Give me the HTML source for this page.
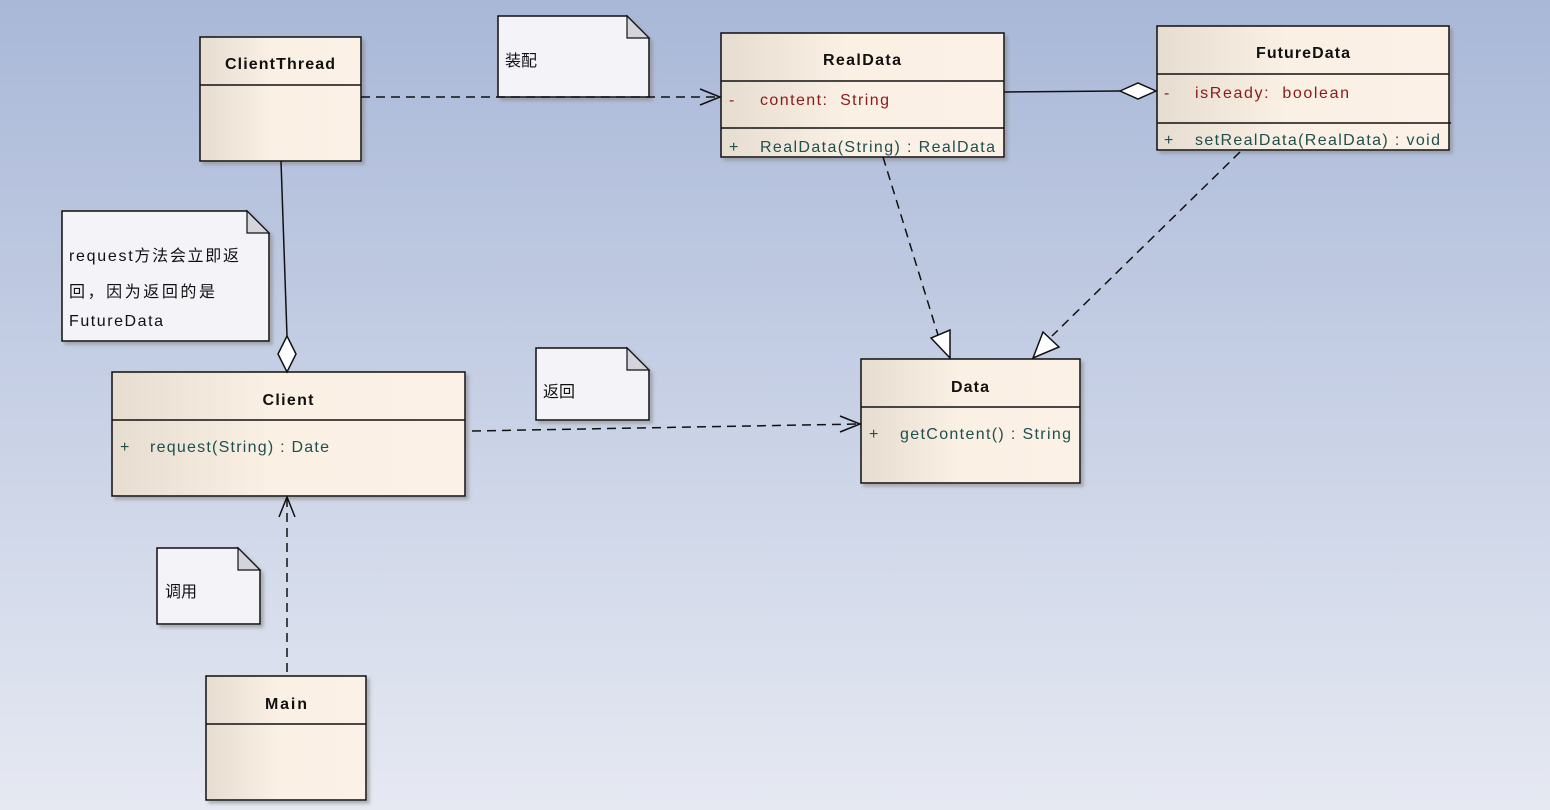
<!DOCTYPE html>
<html><head><meta charset="utf-8"><style>
html,body{margin:0;width:1550px;height:810px;overflow:hidden;}
body{background:linear-gradient(#a9b8d8,#e6e9f2);}
svg{display:block;}
svg text{font-family:"Liberation Sans","Noto Sans CJK SC",sans-serif;font-size:16px;white-space:pre;}
.t{font-weight:bold;fill:#111;}
.a{fill:#8b1a1a;}
.m{fill:#1f4f4f;}
.n{fill:#111;font-size:16px;}
</style></head><body>
<svg width="1550" height="810" xmlns="http://www.w3.org/2000/svg">
<defs>
<linearGradient id="g" x1="0" x2="1"><stop offset="0" stop-color="#e6ddd0"/><stop offset="0.45" stop-color="#faf0e4"/><stop offset="1" stop-color="#fbf1e6"/></linearGradient>
<filter id="s"><feDropShadow dx="3" dy="3" stdDeviation="1.5" flood-color="#888" flood-opacity="0.6"/></filter>
</defs>
<g stroke="#111" stroke-width="1.5" fill="url(#g)" filter="url(#s)">
<rect x="200" y="37" width="161" height="124"/>
<rect x="721" y="33" width="283" height="124"/>
<rect x="1157" y="26" width="292" height="124"/>
<rect x="112" y="372" width="353" height="124"/>
<rect x="861" y="359" width="219" height="124"/>
<rect x="206" y="676" width="160" height="124"/>
</g>
<g stroke="#111" stroke-width="1.5" fill="#f4f3f8" filter="url(#s)">
<path d="M498 16H627L649 38V97H498Z"/>
<path d="M536 348H627L649 370V420H536Z"/>
<path d="M157 548H238L260 570V624H157Z"/>
<path d="M62 211H247L269 233V341H62Z"/>
</g>
<g stroke="#111" stroke-width="1.2" fill="#d4d4dc">
<path d="M627 16V38H649Z"/><path d="M627 348V370H649Z"/><path d="M238 548V570H260Z"/><path d="M247 211V233H269Z"/>
</g>
<g stroke="#111" stroke-width="1.5">
<line x1="200" y1="85" x2="361" y2="85"/>
<line x1="721" y1="81" x2="1004" y2="81"/><line x1="721" y1="128" x2="1004" y2="128"/>
<line x1="1157" y1="74" x2="1449" y2="74"/><line x1="1157" y1="123" x2="1451" y2="123"/>
<line x1="112" y1="420" x2="465" y2="420"/>
<line x1="861" y1="407" x2="1080" y2="407"/>
<line x1="206" y1="724" x2="366" y2="724"/>
</g>
<text class="t" x="280" y="69" text-anchor="middle" textLength="110">ClientThread</text>
<text class="t" x="862" y="65" text-anchor="middle" textLength="78">RealData</text>
<text class="a" x="729" y="105">-</text><text class="a" x="760" y="105" textLength="129">content:  String</text>
<text class="m" x="729" y="152">+</text><text class="m" x="760" y="152" textLength="235">RealData(String) : RealData</text>
<text class="t" x="1303" y="58" text-anchor="middle" textLength="94">FutureData</text>
<text class="a" x="1164" y="98">-</text><text class="a" x="1195" y="98" textLength="154">isReady:  boolean</text>
<text class="m" x="1164" y="145">+</text><text class="m" x="1195" y="145" textLength="245">setRealData(RealData) : void</text>
<text class="t" x="288" y="405" text-anchor="middle" textLength="51">Client</text>
<text class="m" x="120" y="452">+</text><text class="m" x="150" y="452" textLength="179">request(String) : Date</text>
<text class="t" x="970" y="392" text-anchor="middle" textLength="38">Data</text>
<text class="m" x="869" y="439">+</text><text class="m" x="900" y="439" textLength="171">getContent() : String</text>
<text class="t" x="286" y="709" text-anchor="middle" textLength="42">Main</text>
<text class="n" x="505" y="66">装配</text>
<text class="n" x="543" y="397">返回</text>
<text class="n" x="165" y="597">调用</text>
<text class="n" x="69" y="261" textLength="170">request方法会立即返</text>
<text class="n" x="69" y="297" textLength="146">回，因为返回的是</text>
<text class="n" x="69" y="326" textLength="94">FutureData</text>
<g stroke="#111" stroke-width="1.5" fill="none">
<path d="M361 97H719" stroke-dasharray="9 6"/><path d="M700 89L720 97L700 105"/>
<path d="M1004 92L1120 91"/><path d="M1120 91L1138 83L1156 91L1138 99Z" fill="#fff"/>
<path d="M281 161L287 336"/><path d="M287 336L296 354L287 372L278 354Z" fill="#fff"/>
<path d="M472 431L859 424" stroke-dasharray="9 6"/><path d="M840 416L860 424L840 432"/>
<path d="M287 672V498" stroke-dasharray="9 6"/><path d="M279 517L287 497L295 517"/>
<path d="M883 157L938 335" stroke-dasharray="9 6"/><path d="M931 338L950 358L950 330Z" fill="#fff"/>
<path d="M1240 152L1052 336" stroke-dasharray="9 6"/><path d="M1043 332L1033 358L1059 347Z" fill="#fff"/>
</g>
</svg>
</body></html>
